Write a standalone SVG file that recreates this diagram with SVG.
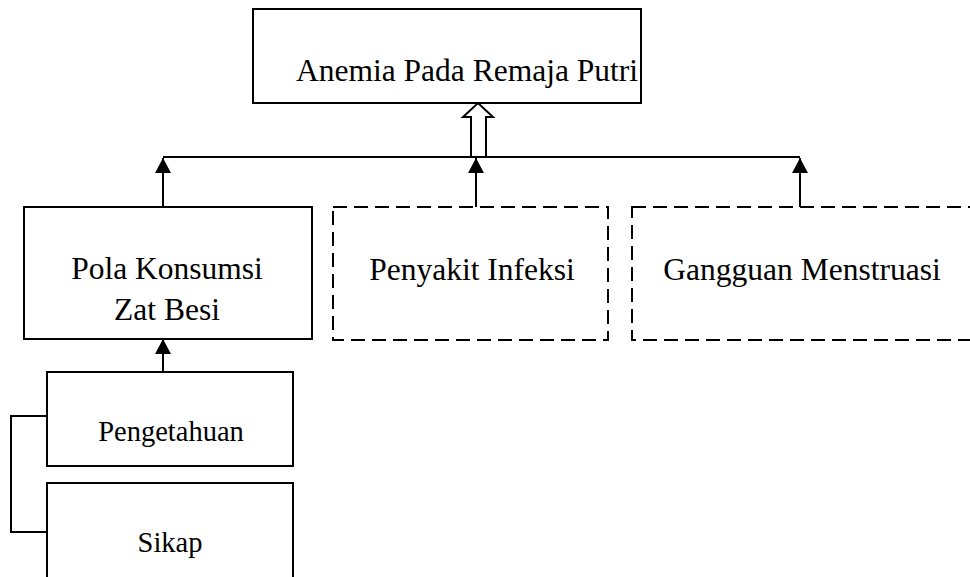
<svg xmlns="http://www.w3.org/2000/svg" width="970" height="577" viewBox="0 0 970 577">
<style>
  .box{fill:#fff;stroke:#000;stroke-width:2}
  .dash{fill:#fff;stroke:#000;stroke-width:2;stroke-dasharray:14 7}
  .t{font-family:"Liberation Serif","Times New Roman",serif;fill:#000;text-anchor:middle}
  .big{font-size:31.5px}
  .sm{font-size:28.5px}
  .ln{fill:none;stroke:#000;stroke-width:2}
</style>
<defs>
  <marker id="ah" markerUnits="userSpaceOnUse" markerWidth="16" markerHeight="16" viewBox="0 0 16 16" refX="15" refY="8" orient="auto">
    <path d="M0,0 L15,8 L0,16 Z" fill="#000"/>
  </marker>
</defs>
<rect width="970" height="577" fill="#fff"/>
<g id="connectors">
  <line class="ln" x1="163" y1="157" x2="800" y2="157" stroke-width="1.5"/>
  <line class="ln" x1="163" y1="207" x2="163" y2="158" marker-end="url(#ah)"/>
  <line class="ln" x1="476" y1="207" x2="476" y2="158" marker-end="url(#ah)"/>
  <line class="ln" x1="800" y1="207" x2="800" y2="158" marker-end="url(#ah)"/>
  <line class="ln" x1="163" y1="372" x2="163" y2="339" marker-end="url(#ah)"/>
  <path d="M471,157 L471,117 L463,117 L478,103 L493,117 L486,117 L486,157 Z" fill="#fff" stroke="#000" stroke-width="2" stroke-linejoin="miter"/>
  <polyline class="ln" points="47,416 11,416 11,532 47,532"/>
</g>
<g id="anemia">
  <rect class="box" x="253" y="9" width="388" height="94"/>
  <text class="t big" x="467" y="81">Anemia Pada Remaja Putri</text>
</g>
<g id="pola">
  <rect class="box" x="24" y="207" width="288" height="132"/>
  <text class="t big" x="167" y="279">Pola Konsumsi</text>
  <text class="t big" x="167" y="320">Zat Besi</text>
</g>
<g id="penyakit">
  <rect class="dash" x="333" y="207" width="275" height="133"/>
  <text class="t big" x="472" y="280">Penyakit Infeksi</text>
</g>
<g id="gangguan">
  <rect class="dash" x="632" y="207" width="345" height="133"/>
  <text class="t big" x="802" y="280">Gangguan Menstruasi</text>
</g>
<g id="pengetahuan">
  <rect class="box" x="47" y="372" width="246" height="94"/>
  <text class="t sm" x="171" y="441">Pengetahuan</text>
</g>
<g id="sikap">
  <rect class="box" x="47" y="483" width="246" height="110"/>
  <text class="t sm" x="170" y="552">Sikap</text>
</g>
</svg>
